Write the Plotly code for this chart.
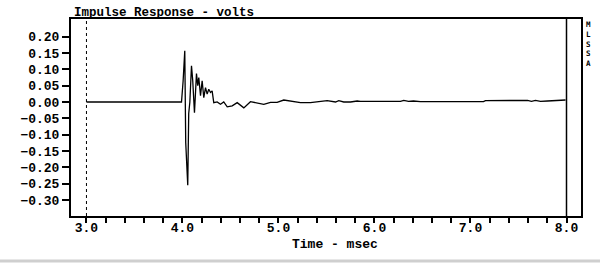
import plotly.graph_objects as go

# Data (time in msec, response in volts)
time_ms = [3.0, 3.99, 4.007, 4.024, 4.034, 4.055, 4.065, 4.077, 4.094, 4.107, 4.125, 4.146,
           4.159, 4.170, 4.188, 4.205, 4.222, 4.240, 4.257, 4.274, 4.292, 4.309, 4.326,
           4.361, 4.396, 4.430, 4.466, 4.518, 4.570, 4.639, 4.708, 4.778, 4.847, 4.917,
           4.986, 5.055, 5.125, 5.229, 5.333, 5.438, 5.507, 5.594, 5.628, 5.680, 5.750,
           5.820, 5.854, 5.958, 6.271, 6.305, 6.354, 6.406, 6.479, 7.135, 7.156, 7.594,
           7.635, 7.677, 7.729, 7.802, 7.885, 7.99]
volts = [0.0, 0.0, 0.065, 0.157, -0.125, -0.255, -0.035, 0.0, 0.111, 0.065, -0.033, 0.087,
         0.05, 0.075, 0.019, 0.065, 0.013, 0.044, 0.024, 0.039, 0.029, 0.034, -0.002,
         0.0, -0.007, 0.0, -0.015, -0.012, -0.002, -0.018, 0.001, -0.003, -0.007, -0.001,
         -0.001, 0.006, 0.002, -0.002, -0.002, 0.003, 0.004, 0.0, 0.004, 0.0, 0.0,
         0.003, 0.002, 0.002, 0.002, 0.005, 0.002, 0.003, 0.001, 0.001, 0.004, 0.005,
         0.002, 0.005, 0.002, 0.003, 0.004, 0.006]

y_ticks = [0.20, 0.15, 0.10, 0.05, 0.00, -0.05, -0.10, -0.15, -0.20, -0.25, -0.30]
x_major = [3.0, 4.0, 5.0, 6.0, 7.0, 8.0]
x_minor_step = 0.2
title_text = "Impulse Response - volts"
x_title = "Time - msec"
side_label = "MLSSA"

FONT = "Liberation Mono"
W, H = 600, 264
L, R, T, B = 71, 19, 19, 48
PW, PH = W - L - R, H - T - B


def px_x(px):
    return (px - L) / PW


def px_y(py):
    return (H - B - py) / PH


fig = go.Figure()
fig.add_trace(go.Scatter(x=time_ms, y=volts, mode="lines",
                         line=dict(color="black", width=1.3), hoverinfo="skip"))

# tick values: minor every 0.2, labels only at integers
xt = []
v = 3.0
while v <= 8.0001:
    xt.append(round(v, 1))
    v += x_minor_step
xtext = [f"<b>{t:.1f}</b>" if t in x_major else "" for t in xt]

fig.update_layout(
    width=W, height=H, margin=dict(l=L, r=R, t=T, b=B),
    paper_bgcolor="white", plot_bgcolor="white", showlegend=False,
    font=dict(family=FONT, color="black", size=13),
    xaxis=dict(range=[2.839, 8.151], tickvals=xt, ticktext=xtext, ticks="outside",
               ticklen=5, tickwidth=1.5, tickcolor="black", showgrid=False, zeroline=False,
               showline=True, linecolor="black", linewidth=2, mirror=True,
               ticklabelstandoff=-7,
               tickfont=dict(family=FONT, size=13)),
    yaxis=dict(range=[-0.349, 0.254], tickvals=y_ticks,
               ticktext=[f"<b>{t:.2f}</b>".replace("-", "\u2212") for t in y_ticks],
               ticks="outside", ticklen=7, tickwidth=1.5, tickcolor="black",
               showgrid=False, zeroline=False, showline=True, linecolor="black",
               linewidth=2, mirror=True, tickfont=dict(family=FONT, size=13)),
)

# dashed start marker at 3.0 and end line at 8.0
fig.add_shape(type="line", xref="x", yref="paper", x0=3.0, x1=3.0, y0=0, y1=1,
              line=dict(color="black", width=1, dash="dot"))
fig.add_shape(type="line", xref="x", yref="paper", x0=8.0, x1=8.0, y0=0, y1=1,
              line=dict(color="black", width=1.5))
# scan line at bottom
fig.add_shape(type="line", xref="paper", yref="paper", x0=px_x(0), x1=px_x(W),
              y0=px_y(261), y1=px_y(261), line=dict(color="#cfcfcf", width=3))

fig.add_annotation(text=f"<b>{title_text}</b>", xref="paper", yref="paper",
                   x=px_x(72), y=px_y(13), xanchor="left", yanchor="middle",
                   showarrow=False, font=dict(family=FONT, size=12.5))
fig.add_annotation(text=f"<b>{x_title}</b>", xref="paper", yref="paper",
                   x=px_x(335), y=px_y(244), xanchor="center", yanchor="middle",
                   showarrow=False, font=dict(family=FONT, size=13))
fig.add_annotation(text="<b>" + "<br>".join(side_label) + "</b>", xref="paper",
                   yref="paper", x=px_x(588.5), y=px_y(18), xanchor="center",
                   yanchor="top", showarrow=False, align="center",
                   font=dict(family="DejaVu Sans Mono", size=7.5))

fig.write_html("out.html")
